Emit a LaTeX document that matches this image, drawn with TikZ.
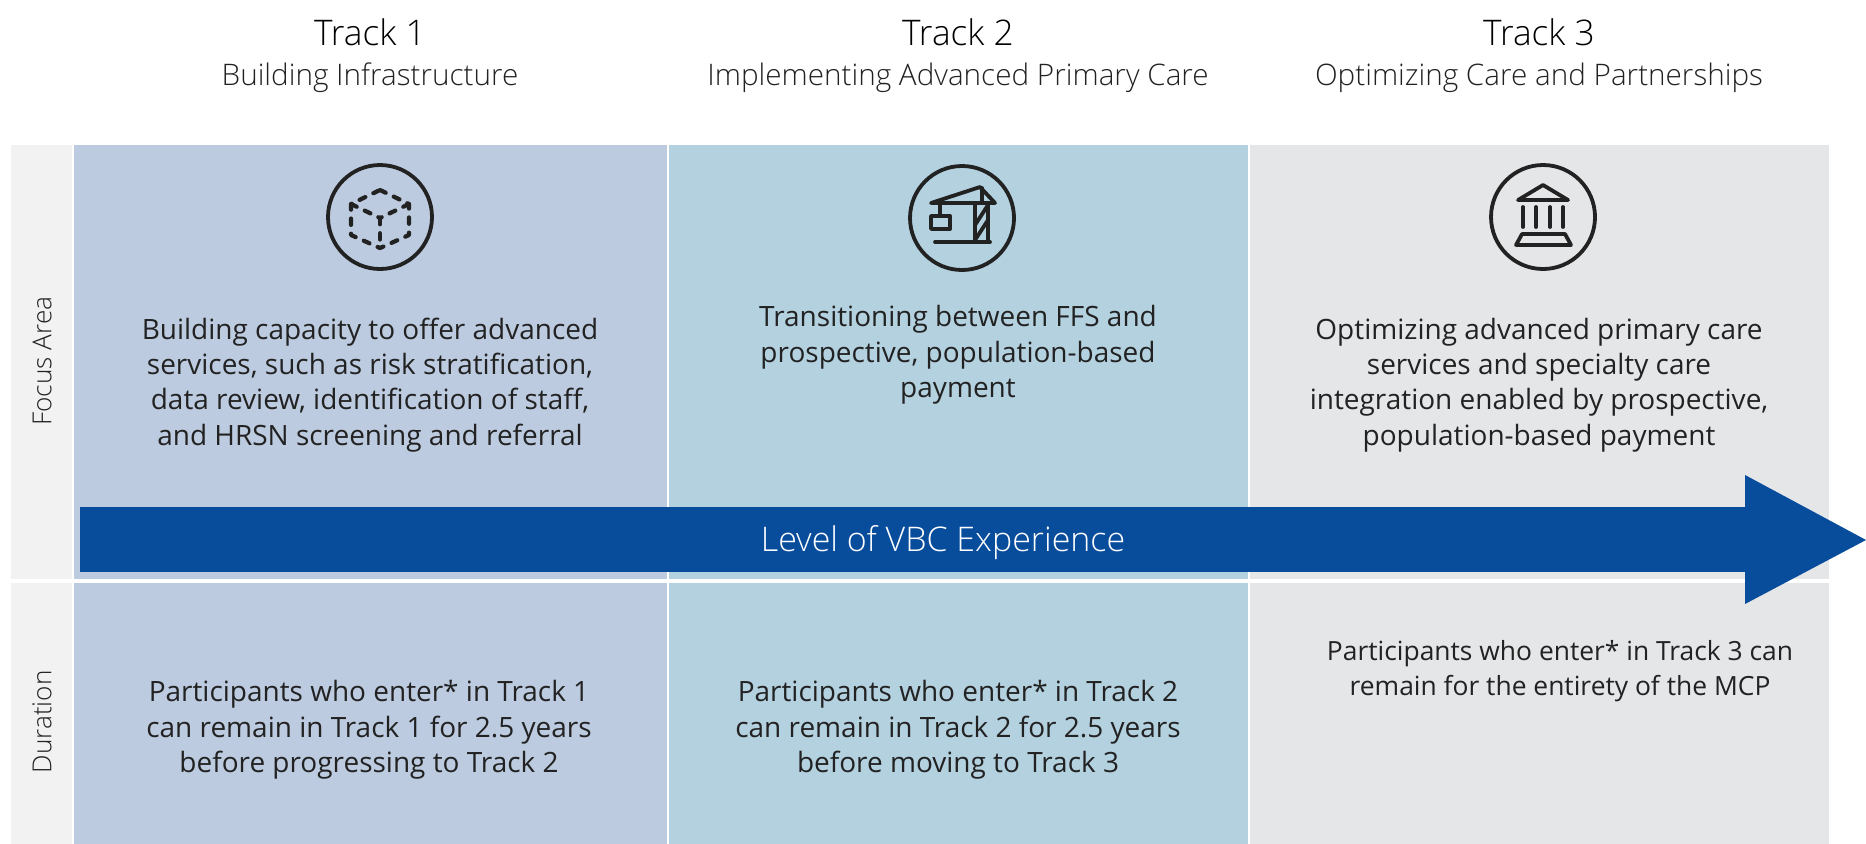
\documentclass[tikz,border=0pt]{standalone}
\usepackage{fontspec}
\setmainfont{Open Sans}
\newfontfamily\lightfont{Open Sans Light}
\usepackage{xcolor}

\definecolor{trackone}{HTML}{BCCBDF}
\definecolor{tracktwo}{HTML}{B4D1E0}
\definecolor{trackthree}{HTML}{E5E6E8}
\definecolor{sidegray}{HTML}{F2F2F2}
\definecolor{arrowblue}{HTML}{084C9C}
\definecolor{inkdark}{HTML}{222222}

\tikzset{
	title/.style={font=\lightfont\fontsize{8.35}{10}\selectfont, text=black, inner sep=0pt},
	subtitle/.style={font=\lightfont\fontsize{7.02}{8}\selectfont, text=inkdark, inner sep=0pt},
	body/.style={font=\fontsize{6.62}{8.35}\selectfont, text=inkdark, align=center, inner sep=0pt},
	bodysmall/.style={body, font=\fontsize{6.25}{8.35}\selectfont},
	side/.style={font=\lightfont\fontsize{6.2}{8}\selectfont, text=inkdark, rotate=90, inner sep=0pt},
	icon/.style={draw=inkdark, line width=0.9pt, line cap=round, line join=round},
	dashicon/.style={icon, line width=1pt, dash pattern=on 1.5pt off 2.1pt}
}

\begin{document}
\begin{tikzpicture}[x=0.235795bp,y=-0.23578bp]
	\useasboundingbox (0,0) rectangle (1866,844);

	\fill[sidegray] (11,145) rectangle (72,579);
	\fill[sidegray] (11,583) rectangle (72,844);
	\fill[trackone] (74,145) rectangle (667,579);
	\fill[trackone] (74,583) rectangle (667,844);
	\fill[tracktwo] (669,145) rectangle (1248,579);
	\fill[tracktwo] (669,583) rectangle (1248,844);
	\fill[trackthree] (1250,145) rectangle (1829,579);
	\fill[trackthree] (1250,583) rectangle (1829,844);

	\node[title] (t1) at (370,32) {Track 1};
	\node[subtitle] (s1) at (370,78) {Building Infrastructure};
	\node[title] (t2) at (958,32) {Track 2};
	\node[subtitle] (s2) at (958,78) {Implementing Advanced Primary Care};
	\node[title] (t3) at (1539,32) {Track 3};
	\node[subtitle] (s3) at (1539,78) {Optimizing Care and Partnerships};

	\node[side] (focus) at (42,361) {Focus Area};
	\node[side] (duration) at (42,722) {Duration};

	% cube
	\draw[icon] (380,217) circle (52);
	\draw[dashicon] (380,190) -- (409,204) -- (409,235) -- (380,248) -- (351,235) -- (351,204) -- cycle;
	\draw[dashicon] (351,204) -- (380,218);
	\draw[dashicon] (409,204) -- (380,218);
	\draw[dashicon] (380,218) -- (380,248);

	% crane
	\draw[icon] (962,218) circle (52);
	\draw[icon] (931,203) -- (980,187) -- (995,203) -- cycle;
	\draw[icon] (975,203) -- (975,242) (988,203) -- (988,242);
	\draw[icon] (982,188) -- (982,203);
	\draw[icon] (975,225) -- (988,205) (975,240) -- (988,220);
	\draw[icon] (935,242) -- (990,242);
	\draw[icon] (940,203) -- (940,216);
	\draw[icon] (931,216) rectangle (950,229);

	% bank
	\draw[icon] (1543,217) circle (52);
	\draw[icon] (1518,200) -- (1543,185) -- (1568,200) -- cycle;
	\foreach \colx in {1523,1536,1550,1563}
		\draw[icon] (\colx,207) -- (\colx,227);
	\draw[icon] (1522,234) -- (1565,234) -- (1571,245) -- (1516,245) -- cycle;

	\node[body] (b1) at (370,385) {Building capacity to offer advanced\\services, such as risk stratification,\\data review, identification of staff,\\and HRSN screening and referral};
	\node[body] (b2) at (958,355) {Transitioning between FFS and\\prospective, population-based\\payment};
	\node[body] (b3) at (1539,385) {Optimizing advanced primary care\\services and specialty care\\integration enabled by prospective,\\population-based payment};

	\fill[arrowblue] (80,507) -- (1745,507) -- (1745,475) -- (1866,540) -- (1745,604) -- (1745,572) -- (80,572) -- cycle;
	\node[font=\lightfont\fontsize{8.03}{10}\selectfont, text=white, inner sep=0pt] (level) at (943,543) {Level of VBC Experience};

	\node[body] (d1) at (369,730) {Participants who enter* in Track 1\\can remain in Track 1 for 2.5 years\\before progressing to Track 2};
	\node[body] (d2) at (958,730) {Participants who enter* in Track 2\\can remain in Track 2 for 2.5 years\\before moving to Track 3};
	\node[bodysmall] (d3) at (1560,671) {Participants who enter* in Track 3 can\\remain for the entirety of the MCP};

\end{tikzpicture}
\end{document}
